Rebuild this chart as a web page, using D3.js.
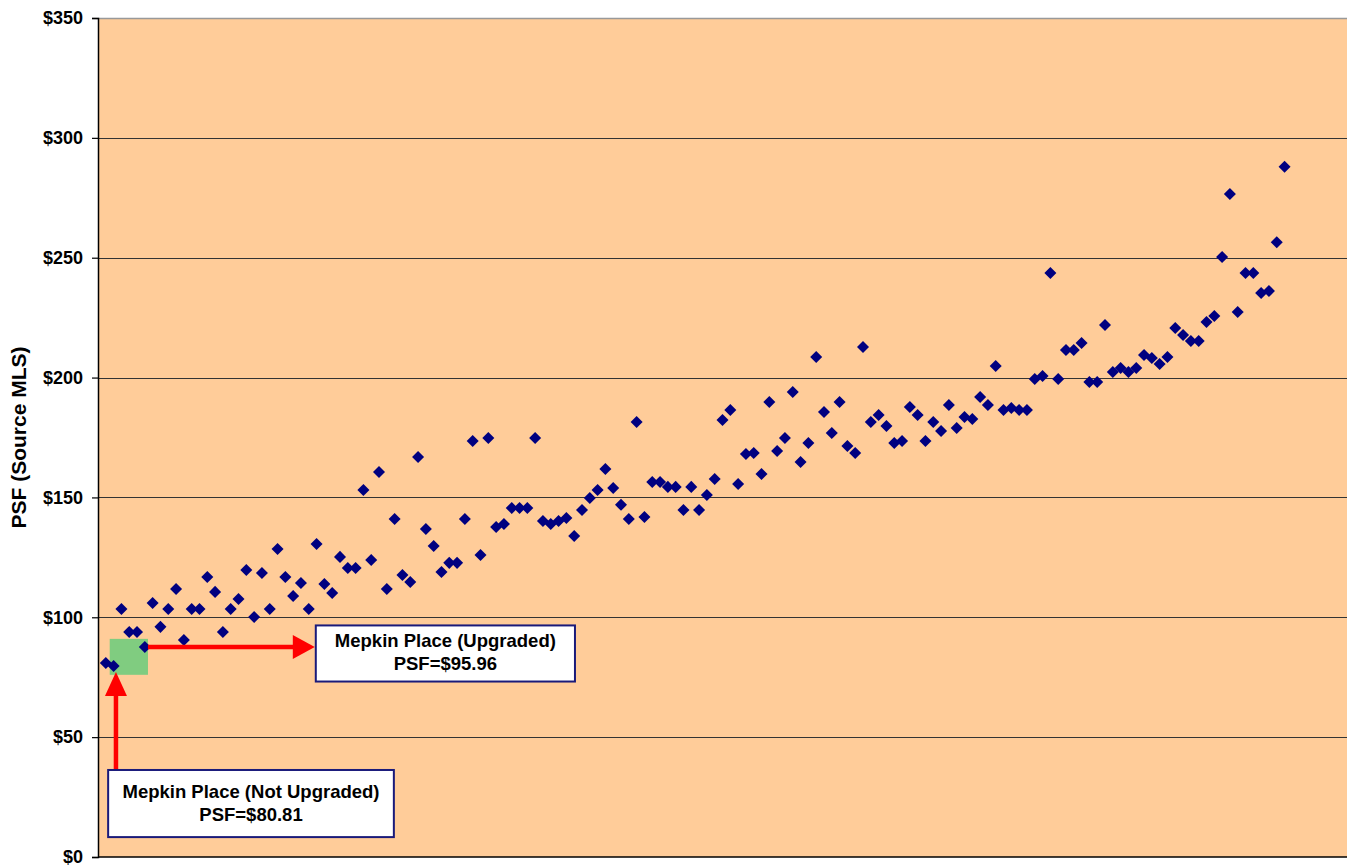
<!DOCTYPE html>
<html>
<head>
<meta charset="utf-8">
<script src="https://cdn.jsdelivr.net/npm/d3@7"></script>
<style>
  body { margin: 0; background: #fff; }
  svg { display: block; font-family: "Liberation Sans", Arial, sans-serif; }
</style>
</head>
<body>
<svg id="chart" width="1347" height="865"></svg>
<script>
// PSF values per sale, in sorted order
const psfValues = [
  80.9, 79.7, 103.5, 93.9, 93.9, 87.6, 106, 96, 103.5, 111.8,
  90.5, 103.5, 103.5, 116.8, 110.6, 93.9, 103.5, 107.6, 119.7, 100.1,
  118.5, 103.5, 128.5, 116.8, 108.9, 114.3, 103.5, 130.6, 113.9, 110.1,
  125.2, 120.6, 120.6, 153.1, 123.9, 160.6, 111.8, 141, 117.6, 114.7,
  166.9, 136.8, 129.7, 118.9, 122.7, 122.7, 141, 173.5, 126, 174.8,
  137.7, 138.9, 145.6, 145.6, 145.6, 174.8, 140.2, 138.9, 140.2, 141.4,
  133.9, 144.8, 149.8, 153.1, 161.9, 153.9, 146.9, 141, 181.5, 141.8,
  156.4, 156.4, 154.4, 154.4, 144.8, 154.4, 144.8, 151, 157.7, 182.3,
  186.5, 155.6, 168.1, 168.5, 159.8, 189.8, 169.4, 174.8, 194, 164.8,
  172.7, 208.6, 185.6, 176.9, 189.8, 171.5, 168.5, 212.8, 181.5, 184.4,
  179.8, 172.7, 173.5, 187.7, 184.4, 173.5, 181.5, 177.7, 188.6, 179,
  183.6, 182.7, 191.9, 188.6, 204.8, 186.5, 187.3, 186.5, 186.5, 199.4,
  200.7, 243.6, 199.4, 211.5, 211.5, 214.4, 198.2, 198.2, 221.9, 202.3,
  204, 202.3, 204, 209.4, 208.2, 205.7, 208.6, 220.7, 217.8, 215.3,
  215.3, 223.2, 225.7, 250.3, 276.6, 227.4, 243.6, 243.6, 235.3, 236.1,
  256.5, 287.9
];
const yTicks = [0, 50, 100, 150, 200, 250, 300, 350];
const yTitle = "PSF (Source MLS)";
const notes = [
  { lines: ["Mepkin Place (Upgraded)", "PSF=$95.96"] },
  { lines: ["Mepkin Place (Not Upgraded)", "PSF=$80.81"] }
];

const svg = d3.select("#chart");
const margin = { top: 18, right: 0, bottom: 8, left: 98 };
const width = 1347 - margin.left - margin.right;
const height = 865 - margin.top - margin.bottom;

const x = d3.scaleLinear().domain([0, 160]).range([0, width]);
const y = d3.scaleLinear().domain([0, 350]).range([height, 0]);

const g = svg.append("g").attr("transform", `translate(${margin.left},${margin.top})`);

g.append("rect")
  .attr("width", width).attr("height", height)
  .attr("fill", "#ffcc99");
g.append("line")
  .attr("x1", 0).attr("x2", width).attr("y1", 0.5).attr("y2", 0.5)
  .attr("stroke", "#999").attr("stroke-width", 1.5);

// gridlines
g.selectAll(".grid")
  .data(yTicks.filter(d => d > 0 && d < 350))
  .join("line")
  .attr("class", "grid")
  .attr("x1", 0).attr("x2", width)
  .attr("y1", d => Math.round(y(d)) + 0.5).attr("y2", d => Math.round(y(d)) + 0.5)
  .attr("stroke", "#333").attr("stroke-width", 1.2);

// y axis
const yAxis = g.append("g")
  .call(d3.axisLeft(y).tickValues(yTicks).tickFormat(d => `$${d}`).tickSize(6).tickPadding(9));
yAxis.select(".domain").attr("stroke", "#000").attr("stroke-width", 1.5);
yAxis.selectAll(".tick line").attr("stroke", "#000").attr("stroke-width", 1.2);
yAxis.selectAll(".tick text")
  .attr("fill", "#000")
  .style("font-size", "18px")
  .style("font-weight", "bold");

// bottom axis line
g.append("line")
  .attr("x1", 0).attr("x2", width).attr("y1", height).attr("y2", height)
  .attr("stroke", "#000").attr("stroke-width", 1.5);

svg.append("text")
  .attr("transform", `translate(26,${margin.top + height / 2}) rotate(-90)`)
  .attr("text-anchor", "middle")
  .style("font-size", "21px")
  .style("font-weight", "bold")
  .text(yTitle);

// green highlight square behind the two Mepkin points
const hiX0 = x(1.5), hiX1 = x(6.4);
const hiY0 = y(91), hiY1 = y(76);
g.append("rect")
  .attr("x", hiX0).attr("y", hiY0)
  .attr("width", hiX1 - hiX0).attr("height", hiY1 - hiY0)
  .attr("fill", "#80cc80");

// points
const diamond = d3.symbol().type(d3.symbolDiamond2).size(92);
g.selectAll(".pt")
  .data(psfValues)
  .join("path")
  .attr("class", "pt")
  .attr("transform", (d, i) => `translate(${x(i + 1)},${y(d)})`)
  .attr("d", diamond)
  .attr("fill", "#000080");

// arrows
const red = "#ff0000";
const arrowY = y(87.6);
const boxUp = { x0: x(27.9), x1: x(61.1), y0: y(96.6), y1: y(73.2) };
g.append("line")
  .attr("x1", hiX1).attr("x2", boxUp.x0 - 20)
  .attr("y1", arrowY).attr("y2", arrowY)
  .attr("stroke", red).attr("stroke-width", 4.5);
g.append("path")
  .attr("d", `M${boxUp.x0 - 1},${arrowY} L${boxUp.x0 - 23},${arrowY - 12} L${boxUp.x0 - 23},${arrowY + 12} Z`)
  .attr("fill", red);

const boxNot = { x0: x(1.3), x1: x(37.9), y0: y(36.3), y1: y(8.3) };
const arrowX = x(2.3);
const tipY = y(79.7) + 6;
g.append("line")
  .attr("x1", arrowX).attr("x2", arrowX)
  .attr("y1", boxNot.y0).attr("y2", tipY + 20)
  .attr("stroke", red).attr("stroke-width", 4.5);
g.append("path")
  .attr("d", `M${arrowX},${tipY} L${arrowX - 11},${tipY + 24} L${arrowX + 11},${tipY + 24} Z`)
  .attr("fill", red);

// note boxes
[boxUp, boxNot].forEach((b, i) => {
  g.append("rect")
    .attr("x", b.x0).attr("y", b.y0)
    .attr("width", b.x1 - b.x0).attr("height", b.y1 - b.y0)
    .attr("fill", "#fff").attr("stroke", "#1a1a7a").attr("stroke-width", 2);
  const cx = (b.x0 + b.x1) / 2;
  const cy = (b.y0 + b.y1) / 2;
  g.append("text")
    .attr("x", cx).attr("y", cy - 6)
    .attr("text-anchor", "middle")
    .style("font-size", "18.5px").style("font-weight", "bold")
    .text(notes[i].lines[0]);
  g.append("text")
    .attr("x", cx).attr("y", cy + 17)
    .attr("text-anchor", "middle")
    .style("font-size", "18.5px").style("font-weight", "bold")
    .text(notes[i].lines[1]);
});
</script>
</body>
</html>
